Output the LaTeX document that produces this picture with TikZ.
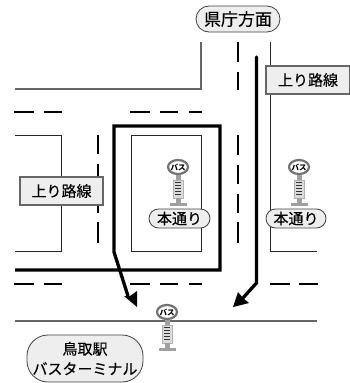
\documentclass[tikz,border=0pt]{standalone}
\usepackage{fontspec}
\setmainfont{Noto Sans CJK JP}
\newfontfamily\lblfont[FakeBold=0.35]{Noto Sans CJK JP}
\usetikzlibrary{shapes.misc,shapes.geometric}
\definecolor{roadgray}{HTML}{666666}
\definecolor{boxfill}{HTML}{EEEEEE}
\definecolor{signgray}{HTML}{A0A0A0}
\tikzset{
  thinroad/.style={draw=black!85,line width=0.9pt},
  edgeroad/.style={draw=roadgray,line width=1.2pt},
  centerdash/.style={draw=black,line width=1.9pt},
  route/.style={draw=black,line width=3.3pt,line join=miter},
  pill/.style={draw=black!75,fill=boxfill,rounded rectangle,line width=0.8pt,inner sep=0pt,font=\lblfont\fontsize{15}{17}\selectfont},
  tag/.style={draw=roadgray,fill=boxfill,line width=1.2pt,inner sep=0pt,font=\lblfont\fontsize{15}{17}\selectfont},
  headfill/.style={fill=black,draw=none},
  bussign/.pic={
    \fill[signgray] (-2.5,8) rectangle (2.5,13);
    \fill[black!14] (-5,13) rectangle (5,31);
    \draw[black!30,line width=.7pt] (-5,13) rectangle (5,31);
    \foreach \yy in {15.5,18.5,21.5,24.5,27.5}{\draw[black!80,line width=.9pt] (-3.2,\yy) -- (3.2,\yy);}
    \fill[signgray] (-2.5,31) rectangle (2.5,36);
    \fill[signgray] (-8.5,35.5) rectangle (8.5,38.5);
    \node[draw=black!55,fill=white,ellipse,line width=2.2pt,minimum width=20pt,minimum height=14pt,inner sep=0pt] at (0,0) {};
    \node[inner sep=0pt,font=\fontsize{7.5}{8}\selectfont\bfseries] at (0,0) {バス};
  }
}
\begin{document}
\begin{tikzpicture}[x=1pt,y=-1pt]
\useasboundingbox (0,0) rectangle (350,383);
% road edges
\draw[edgeroad] (15,89) -- (201,89) -- (201,42);
\draw[edgeroad] (15,321) -- (317,321);
% thin blocks
\draw[thinroad] (15,135) -- (61,135) -- (61,251) -- (15,251);
\draw[thinroad] (131,251) rectangle (201,135);
\draw[thinroad] (270,42) -- (270,251) -- (317,251);
% dashes, horizontal
\foreach \yy in {112,284}{
  \foreach \xa/\xb in {14/34,44/62,130/150,160/178,189/202}{
    \draw[centerdash] (\xa,\yy) -- (\xb,\yy);}
}
\draw[centerdash] (270,284) -- (290,284);
\draw[centerdash] (299,284) -- (318,284);
% dashes, vertical
\foreach \ya/\yb in {135/154,164/183,206/213,222/243}{\draw[centerdash] (98,\ya) -- (98,\yb);}
\foreach \ya/\yb in {42/62,72/90,135/155,165/184,194/213,222/243}{\draw[centerdash] (238,\ya) -- (238,\yb);}
% bus stops
\pic at (178,167) {bussign};
\pic at (299,167) {bussign};
\pic at (167,312) {bussign};
% routes
\coordinate (loopend) at (128,296);
\coordinate (rightend) at (242,299);
\draw[route] (15,270) -- (220,270) -- (220,126) -- (114,126) -- (114,252) -- (loopend);
\draw[route,line cap=round] (256.5,57) -- (256.5,283) -- (rightend);
\fill[headfill] (137,307) -- (124,296) -- (130,296) -- (137,291) -- cycle;
\fill[headfill] (233,307) -- (238,292) -- (243,298) -- (249,303) -- cycle;
% labels
\node[pill,minimum width=84pt,minimum height=26pt,font=\lblfont\fontsize{17}{19}\selectfont] (kencho) at (238,19) {県庁方面};
\node[tag,minimum width=84pt,minimum height=28pt] (noboriR) at (308,80) {上り路線};
\node[tag,minimum width=83pt,minimum height=28pt] (noboriL) at (61.5,191) {上り路線};
\node[pill,minimum width=61pt,minimum height=19pt] (hondoriC) at (179.5,218.5) {本通り};
\node[pill,minimum width=60pt,minimum height=19pt] (hondoriR) at (296,218.5) {本通り};
\node[draw=black!75,fill=boxfill,rounded corners=21pt,line width=0.8pt,minimum width=116pt,minimum height=47pt,inner sep=0pt,align=center,font=\lblfont\fontsize{15}{20}\selectfont] (terminal) at (85,358.5) {鳥取駅\\バスターミナル};
\end{tikzpicture}
\end{document}
